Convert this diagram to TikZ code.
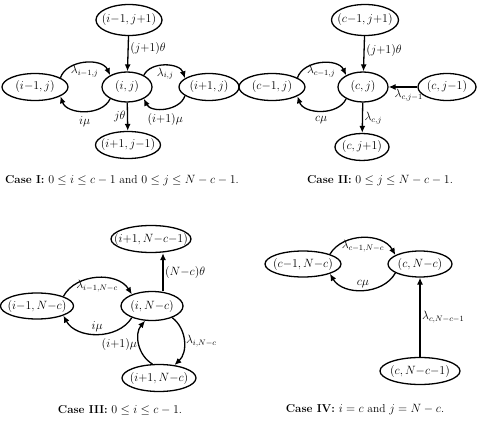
\documentclass[tikz,border=0pt]{standalone}
\usetikzlibrary{shapes.geometric,arrows.meta}
\newcommand{\tightsp}{\medmuskip=0mu\relax\thinmuskip=3mu\relax}
\begin{document}
\begin{tikzpicture}[x=1pt,y=-1pt,
  st/.style={ellipse,draw,line width=1.3pt,inner xsep=-14pt,inner ysep=-4pt,minimum height=26pt,
     font=\fontsize{11.5}{13}\selectfont\tightsp},
  ar/.style={-{Latex[length=7pt,width=6pt]},line width=1.3pt},
  lab/.style={font=\fontsize{11.5}{13}\selectfont\tightsp,inner sep=1.5pt},
  captxt/.style={font=\fontsize{11.5}{13}\selectfont,inner sep=0pt}]
\useasboundingbox (0,0) rectangle (477,425);
% ---------------- Case I
\node[st,minimum width=66pt,minimum height=31pt] (A1) at (129,20) {$(i-1,j+1)$};
\node[st,minimum width=50pt,minimum height=30pt] (C1) at (127,87) {$(i,j)$};
\node[st,minimum width=66pt,minimum height=27pt] (L1) at (35,87) {$(i-1,j)$};
\node[st,minimum width=60pt,minimum height=27pt] (R1) at (209,87) {$(i+1,j)$};
\node[st,minimum width=65pt,minimum height=27pt] (B1) at (128,145) {$(i+1,j-1)$};
\draw[ar] (A1) -- node[lab,pos=0.35,right]{$(j+1)\theta$} (C1);
\draw[ar] (C1) -- node[lab,midway,left]{$j\theta$} (B1);
\draw[ar] (L1.20) to[bend left=68] node[lab,midway,below]{$\lambda_{i-1,j}$} (C1.145);
\draw[ar] (C1.215) to[bend left=68] node[lab,midway,below=3pt]{$i\mu$} (L1.340);
\draw[ar] (C1.35) to[bend left=68] node[lab,midway,below]{$\lambda_{i,j}$} (R1.160);
\draw[ar] (R1.200) to[bend left=68] node[lab,midway,below=3pt]{$(i+1)\mu$} (C1.325);
\node[captxt] (K1) at (122,181) {\textbf{Case I:} $0\le i\le c-1$ and $0\le j\le N-c-1$.};
% ---------------- Case II
\node[st,minimum width=67pt,minimum height=31pt] (A2) at (365,20) {$(c-1,j+1)$};
\node[st,minimum width=50pt,minimum height=30pt] (C2) at (363,87) {$(c,j)$};
\node[st,minimum width=66pt,minimum height=27pt] (L2) at (272,87) {$(c-1,j)$};
\node[st,minimum width=58pt,minimum height=27pt] (R2) at (447,87) {$(c,j-1)$};
\node[st,minimum width=54pt,minimum height=27pt] (B2) at (362,147) {$(c,j+1)$};
\draw[ar] (A2) -- node[lab,pos=0.4,right]{$(j+1)\theta$} (C2);
\draw[ar] (C2) -- node[lab,midway,right]{$\lambda_{c,j}$} (B2);
\draw[ar] (R2) -- node[lab,pos=0.3,below]{$\lambda_{c,j-1}$} (C2);
\draw[ar] (L2.20) to[bend left=68] node[lab,midway,below]{$\lambda_{c-1,j}$} (C2.145);
\draw[ar] (C2.215) to[bend left=68] node[lab,midway,below=3pt]{$c\mu$} (L2.340);
\node[captxt] (K2) at (380,181) {\textbf{Case II:} $0\le j\le N-c-1$.};
% ---------------- Case III
\node[st,minimum width=80pt,minimum height=27pt] (T3) at (151,239) {$(i+1,N-c-1)$};
\node[st,minimum width=62pt,minimum height=29pt] (C3) at (152,306) {$(i,N-c)$};
\node[st,minimum width=73pt,minimum height=26pt] (L3) at (37,306) {$(i-1,N-c)$};
\node[st,minimum width=74pt,minimum height=27pt] (B3) at (159,378) {$(i+1,N-c)$};
\draw[ar] ([xshift=11pt]C3.north) -- node[lab,midway,right]{$(N-c)\theta$} ([xshift=11pt]C3.north |- T3.south);
\draw[ar] (L3.20) to[bend left=60] node[lab,midway,below]{$\lambda_{i-1,N-c}$} (C3.150);
\draw[ar] (C3.210) to[bend left=60] node[lab,midway,above]{$i\mu$} (L3.340);
\draw[ar] (C3.-30) to[bend left=50] node[lab,midway,right]{$\lambda_{i,N-c}$} (B3.40);
\draw[ar] (B3.115) to[bend left=50] node[lab,midway,left]{$(i+1)\mu$} (C3.245);
\node[captxt] (K3) at (120,410) {\textbf{Case III:} $0\le i\le c-1$.};
% ---------------- Case IV
\node[st,minimum width=76pt,minimum height=26pt] (L4) at (303,264) {$(c-1,N-c)$};
\node[st,minimum width=64pt,minimum height=26pt] (R4) at (420,264) {$(c,N-c)$};
\node[st,minimum width=80pt,minimum height=27pt] (B4) at (420,371) {$(c,N-c-1)$};
\draw[ar] (B4) -- node[lab,midway,right]{$\lambda_{c,N-c-1}$} (R4);
\draw[ar] (L4.20) to[bend left=60] node[lab,midway,below]{$\lambda_{c-1,N-c}$} (R4.160);
\draw[ar] (R4.200) to[bend left=60] node[lab,midway,above]{$c\mu$} (L4.340);
\node[captxt] (K4) at (365,410) {\textbf{Case IV:} $i=c$ and $j=N-c$.};
\end{tikzpicture}
\end{document}
